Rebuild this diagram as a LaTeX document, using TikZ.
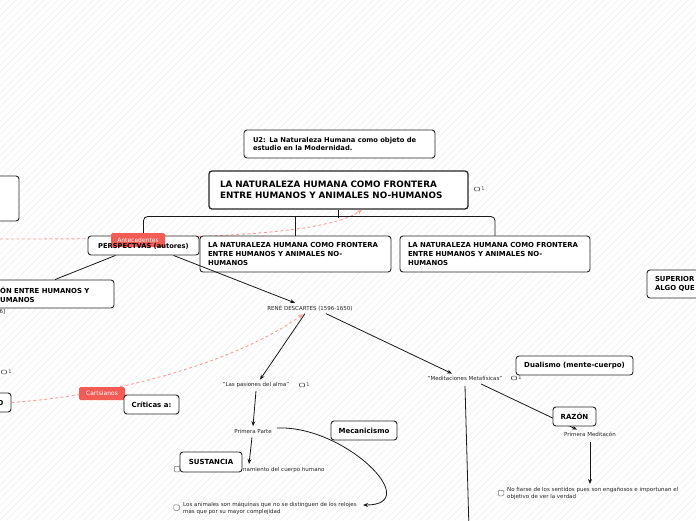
\documentclass[tikz,border=0pt]{standalone}
\usepackage{fontspec}
\setmainfont{DejaVu Sans}
\usetikzlibrary{arrows.meta}
\definecolor{redlab}{HTML}{F25C54}
\definecolor{reddash}{HTML}{F5A09C}
\begin{document}
\begin{tikzpicture}[x=1pt,y=-1pt,
  hatch/.style={draw=black!6, line width=0.45pt},
  box/.style={draw=black!85, fill=white, rounded corners=3pt, line width=0.9pt, inner sep=0pt,
    align=left, font=\bfseries\fontsize{6.9}{9}\selectfont},
  sbox/.style={box, align=center, font=\bfseries\fontsize{7}{9}\selectfont},
  lab/.style={fill=redlab, text=white, rounded corners=1.5pt, inner sep=0pt, font=\fontsize{6}{7}\selectfont},
  txt/.style={inner sep=0pt, text=black!85, font=\fontsize{5.5}{7}\selectfont},
  chk/.style={draw=black!55, fill=white, rounded corners=1pt, line width=0.5pt, minimum width=5.5pt, minimum height=5.5pt, inner sep=0pt},
  cmt/.style={draw=black!65, rounded corners=0.8pt, line width=0.55pt, minimum width=5pt, minimum height=3.8pt, inner sep=0pt,
    label={[inner sep=0pt, text=black!75, font=\fontsize{5}{6}\selectfont, xshift=1.5pt]right:1}},
  conn/.style={draw=black!90, line width=0.8pt},
  arr/.style={conn, -{Stealth[length=5pt,width=4pt]}},
  rdash/.style={draw=reddash, line width=0.9pt, dash pattern=on 3pt off 2.5pt, -{Stealth[length=5pt,width=4pt]}}
]
\clip (0,0) rectangle (696,520);
\fill[white] (0,0) rectangle (696,520);
\foreach \i in {-525,-518,...,700} \draw[hatch] (\i,520) -- ++(520,-520);

% ---------- boxes ----------
\node[box, minimum width=79pt, minimum height=45pt] (tlbox) at (-20.5,198.5) {};
\node[box, minimum width=191pt, minimum height=28pt, text width=173pt, font=\bfseries\fontsize{6.75}{8.3}\selectfont] (u2) at (339.5,144)
  {U2: La Naturaleza Humana como objeto de\\estudio en la Modernidad.};

\coordinate (ra) at (0,239);
\coordinate (rb) at (362,210);
\draw[rdash] (ra) .. controls (180,239) and (320,237) .. (rb);

\node[box, line width=1.3pt, minimum width=259pt, minimum height=38pt, text width=237pt, font=\bfseries\fontsize{8.8}{10.5}\selectfont] (main) at (338.5,190)
  {LA NATURALEZA HUMANA COMO FRONTERA\\ENTRE HUMANOS Y ANIMALES NO-HUMANOS};
\node[cmt] (cm1) at (477,189) {};

\node[box, minimum width=111pt, minimum height=19pt] (persp) at (143.5,245.5) {};
\node[box, minimum width=191pt, minimum height=36pt, text width=175pt] (box2) at (295.5,254)
  {LA NATURALEZA HUMANA COMO FRONTERA\\ENTRE HUMANOS Y ANIMALES NO-\\HUMANOS};
\node[box, minimum width=190pt, minimum height=36pt, text width=174pt] (box3) at (495,254)
  {LA NATURALEZA HUMANA COMO FRONTERA\\ENTRE HUMANOS Y ANIMALES NO-\\HUMANOS};

\draw[conn] (main.south) -- ++(0,8);
\draw[conn, rounded corners=4pt] (persp.north) -- ++(0,-19) -| (box3.north);
\draw[conn] (box2.north) -- ++(0,-19);

\node[lab, minimum width=54pt, minimum height=14pt] (antec) at (138,240) {Antecedentes};
\node[inner sep=0pt, font=\bfseries\fontsize{6.7}{8}\selectfont] (perspt) at (143.5,246) {PERSPECTVAS (autores)};

% left partial boxes
\node[box, minimum width=194pt, minimum height=28pt] (lbox) at (17,294) {};
\node[inner sep=0pt, anchor=west, align=left, font=\bfseries\fontsize{6.9}{9}\selectfont] (lboxt) at (0,294.5) {ÓN ENTRE HUMANOS Y\\UMANOS};
\node[txt, anchor=west] (lref) at (-0.5,311.5) {6]};
\node[cmt] (cm4) at (4,372) {};
\node[box, minimum width=51pt, minimum height=19pt] (lboxo) at (-14.5,402.5) {};
\node[inner sep=0pt, anchor=east, font=\bfseries\fontsize{6.8}{8}\selectfont] (lboxot) at (3.5,403) {O};

\node[box, minimum width=98pt, minimum height=28pt, text width=82pt] (sup) at (696,284) {SUPERIOR\\ALGO QUE};

% Descartes branch
\node[txt] (rene) at (310,308) {RENÉ DESCARTES (1596-1650)};
\node[txt] (pas) at (256,385) {"Las pasiones del alma"};
\node[cmt] (cm2) at (302,385) {};
\node[txt] (prim) at (253,431) {Primera Parte};
\node[txt] (medit) at (465,378.5) {"Meditaciones Metafísicas"};
\node[cmt] (cm3) at (514,378) {};
\node[txt] (pmed) at (590,434.5) {Primera Meditacón};

\node[chk] (chk1) at (177,469) {};
\node[txt, anchor=west] (chk1t) at (243,469.5) {namiento del cuerpo humano};
\node[chk] (chk2) at (176.5,507.5) {};
\node[txt, anchor=west, align=left] (chk2t) at (183,508.5) {Los animales son máquinas que no se distinguen de los relojes\\más que por su mayor complejidad};
\node[chk] (chk3) at (501,493) {};
\node[txt, anchor=west, align=left] (chk3t) at (507,493.5) {No fiarse de los sentidos pues son engañosos e importunan el\\objetivo de ver la verdad};

\coordinate (a1) at (249,464);
\coordinate (a2) at (363,505);
\coordinate (a3) at (469,530);
\coordinate (a4) at (590,484);

\draw[conn] ([xshift=-28pt]persp.south) -- ([xshift=38pt]lbox.north);
\draw[arr] ([xshift=30pt]persp.south) -- ([xshift=-15pt,yshift=2pt]rene.north);
\draw[arr] ([xshift=-5pt,yshift=-2.5pt]rene.south) -- ([xshift=4pt,yshift=2.5pt]pas.north);
\draw[arr] ([xshift=16pt,yshift=-2.5pt]rene.south) -- ([xshift=-13pt,yshift=2.5pt]medit.north);
\draw[arr] ([yshift=-3pt]pas.south) -- ([yshift=2.5pt]prim.north);
\draw[arr] ([xshift=-1pt,yshift=-4pt]prim.south) -- (a1);
\draw[arr] ([xshift=5pt,yshift=3pt]prim.east) .. controls (345,425) and (425,505) .. (a2);
\draw[conn] ([yshift=-5pt]medit.south) -- (a3);
\draw[arr] ([xshift=16pt,yshift=-3pt]medit.south) -- ([xshift=-13pt,yshift=2.5pt]pmed.north);
\draw[arr] ([yshift=-5pt]pmed.south) -- (a4);

\draw[rdash] (lboxo.east) .. controls (120,395) and (240,360) .. ([xshift=-7pt,yshift=-3pt]rene.south);

\node[lab, minimum width=46pt, minimum height=13pt] (carts) at (102,393.5) {Cartsianos};
\node[sbox, minimum width=55pt, minimum height=19pt] (crit) at (151.5,404.5) {Críticas a:};
\node[sbox, minimum width=62pt, minimum height=20pt] (sust) at (211,462) {SUSTANCIA};
\node[sbox, minimum width=66pt, minimum height=19pt] (mec) at (364,430.5) {Mecanicismo};
\node[sbox, minimum width=117pt, minimum height=19pt] (dual) at (574.5,365.5) {Dualismo (mente-cuerpo)};
\node[sbox, minimum width=43pt, minimum height=19pt] (razon) at (574.5,416.5) {RAZÓN};
\end{tikzpicture}
\end{document}
